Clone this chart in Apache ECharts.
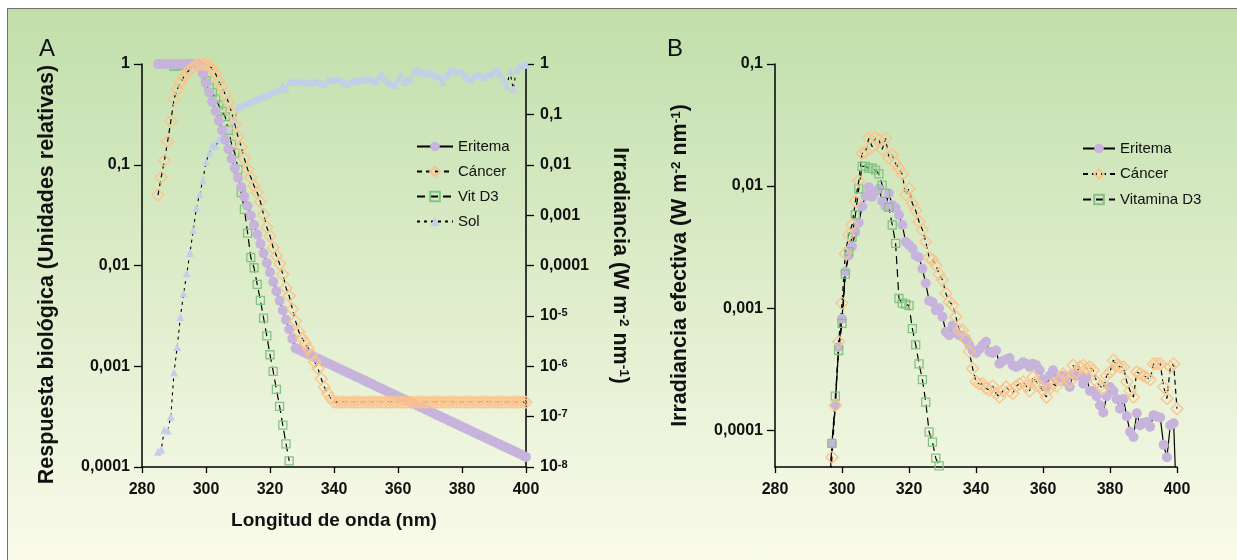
<!DOCTYPE html>
<html><head><meta charset="utf-8">
<script src="https://cdn.jsdelivr.net/npm/echarts@6/dist/echarts.min.js"></script>
<style>
html,body{margin:0;padding:0;background:#fff;width:1237px;height:560px;overflow:hidden}
#bg{position:absolute;left:7px;top:8px;width:1240px;height:560px;border-top:1px solid #707070;border-left:1px solid #707070;background:linear-gradient(to bottom,#c1dfab 0%,#deedcb 50%,#fbfbec 100%)}
#chart{position:absolute;left:0;top:0;width:1237px;height:560px}
</style></head><body>
<div id="bg"></div><div id="chart"></div>
<script>
// ---------- DATA ----------
const X_TICKS = [280, 300, 320, 340, 360, 380, 400];
const Y_LEFT_LABELS = ['0,0001', '0,001', '0,01', '0,1', '1'];            // 1e-4 .. 1
const Y_RIGHT_LABELS = ['{b|10}{s|-8}', '{b|10}{s|-7}', '{b|10}{s|-6}', '{b|10}{s|-5}', '0,0001', '0,001', '0,01', '0,1', '1']; // 1e-8 .. 1
const Y_B_LABELS = ['0,0001', '0,001', '0,01', '0,1'];                     // 1e-4 .. 1e-1

const WL_A = [285,286,287,288,289,290,291,292,293,294,295,296,297,298,299,300,301,302,303,304,
305,306,307,308,309,310,311,312,313,314,315,316,317,318,319,320,321,322,323,324,
325,326,327,328,329,330,331,332,333,334,335,336,337,338,339,340,341,342,343,344,
345,346,347,348,349,350,351,352,353,354,355,356,357,358,359,360,361,362,363,364,
365,366,367,368,369,370,371,372,373,374,375,376,377,378,379,380,381,382,383,384,
385,386,387,388,389,390,391,392,393,394,395,396,397,398,399,400];

const ERITEMA_A = [1,1,1,1,1,1,1,1,1,1,1,1,1,1,
0.805,0.649,0.522,0.421,0.339,0.273,0.220,0.177,0.143,0.115,
0.0925,0.0745,0.0600,0.0483,0.0389,0.0313,0.0252,0.0203,0.0164,0.0132,
0.0106,0.00855,0.00689,0.00555,0.00447,0.00360,0.00290,0.00233,0.00188,0.00151,
0.00146,0.00141,0.00136,0.00132,0.00127,0.00123,0.00119,0.00115,0.00111,0.00107,
0.00104,0.00100,0.000966,0.000933,0.000902,0.000871,0.000841,0.000813,0.000785,0.000759,
0.000733,0.000708,0.000684,0.000661,0.000638,0.000617,0.000596,0.000575,0.000556,0.000537,
0.000519,0.000501,0.000484,0.000468,0.000452,0.000437,0.000422,0.000407,0.000394,0.000380,
0.000367,0.000355,0.000343,0.000331,0.000320,0.000309,0.000299,0.000288,0.000279,0.000269,
0.000260,0.000251,0.000243,0.000234,0.000226,0.000219,0.000211,0.000204,0.000197,0.000191,
0.000184,0.000178,0.000172,0.000166,0.000160,0.000155,0.000150,0.000145,0.000140,0.000135,
0.000130,0.000126];

const CANCER_A = [0.05,0.075,0.11,0.17,0.27,0.45,0.56,0.65,0.74,0.82,0.88,0.93,0.96,1.0,
1.0,0.99,0.96,0.9,0.8,0.67,0.59,0.5,0.42,0.33,
0.25,0.19,0.15,0.115,0.09,0.075,0.062,0.053,0.043,0.032,
0.024,0.0196,0.015,0.0125,0.0104,0.0082,0.006,0.005,0.0037,0.0028,
0.0022,0.0019,0.0017,0.0015,0.0013,0.0011,0.00095,0.00075,0.00062,0.00054,
0.00048,
0.00044,0.00044,0.00044,0.00044,0.00044,0.00044,0.00044,0.00044,0.00044,0.00044,
0.00044,0.00044,0.00044,0.00044,0.00044,0.00044,0.00044,0.00044,0.00044,0.00044,
0.00044,0.00044,0.00044,0.00044,0.00044,0.00044,0.00044,0.00044,0.00044,0.00044,
0.00044,0.00044,0.00044,0.00044,0.00044,0.00044,0.00044,0.00044,0.00044,0.00044,
0.00044,0.00044,0.00044,0.00044,0.00044,0.00044,0.00044,0.00044,0.00044,0.00044,
0.00044,0.00044,0.00044,0.00044,0.00044,0.00044,0.00044,0.00044,0.00044,0.00044,
0.00044];

const VITD_A_WL = [290,291,292,293,294,295,296,297,298,299,300,301,302,303,304,305,306,307,308,309,
310,311,312,313,314,315,316,317,318,319,320,321,322,323,324,325,326];
const VITD_A = [0.95,0.96,0.97,0.98,0.99,1.0,1.0,1.0,0.95,0.85,
0.68,0.58,0.52,0.45,0.39,0.34,0.30,0.22,0.16,0.13,
0.09,0.053,0.036,0.021,0.012,0.0095,0.0065,0.0045,0.0030,0.0020,
0.0013,0.00089,0.00059,0.00040,0.00026,0.00017,0.000115];

const SOL_A = [2.0e-8,2.2e-8,5.5e-8,5.3e-8,1.0e-7,7.5e-7,2.4e-6,9.5e-6,2.8e-5,7.0e-5,
1.8e-4,5.0e-4,1.4e-3,2.6e-3,4.9e-3,0.0114,0.017,0.0245,0.023,0.032,
0.038,0.045,0.053,0.065,0.083,0.14,0.15,0.165,0.17,0.18,
0.19,0.21,0.22,0.23,0.24,0.26,0.28,0.30,0.31,0.38,
0.33,0.44,0.44,0.45,0.46,0.44,0.45,0.43,0.44,0.45,
0.46,0.42,0.40,0.47,0.51,0.49,0.50,0.49,0.44,0.40,
0.45,0.47,0.47,0.50,0.49,0.50,0.51,0.49,0.46,0.56,
0.62,0.50,0.44,0.40,0.38,0.50,0.62,0.44,0.48,0.52,
0.71,0.78,0.69,0.66,0.68,0.69,0.63,0.58,0.56,0.44,
0.60,0.71,0.78,0.74,0.69,0.69,0.60,0.52,0.49,0.60,
0.62,0.59,0.56,0.62,0.63,0.71,0.78,0.63,0.49,0.36,
0.71,0.32,0.76,0.89,0.95,0.98];

const WL_B = [296,297,298,299,300,301,302,303,304,305,306,307,308,309,310,311,312,313,314,315,
316,317,318,319,320,321,322,323,324,325,326,327,328,329,330,331,332,333,334,335,
336,337,338,339,340,341,342,343,344,345,346,347,348,349,350,351,352,353,354,355,
356,357,358,359,360,361,362,363,364,365,366,367,368,369,370,371,372,373,374,375,
376,377,378,379,380,381,382,383,384,385,386,387,388,389,390,391,392,393,394,395,
396,397,398,399,400];

const ERITEMA_B = [2.5e-5,7.8e-5,1.6e-4,4.8e-4,8.2e-4,0.0020,0.0027,0.0032,0.0042,0.0050,
0.0068,0.0083,0.0098,0.0082,0.0090,0.0095,0.0075,0.0068,0.0087,0.0070,
0.0066,0.0058,0.0048,0.0035,0.0033,0.0031,0.0027,0.0026,0.0021,0.0016,
0.00115,0.00112,0.00096,0.0010,0.00085,0.00064,0.00060,0.00072,0.00063,0.00060,
0.00058,0.00056,0.00050,0.00045,0.00043,0.00046,0.00050,0.00053,0.00044,0.00043,
0.00045,0.00035,0.00037,0.00038,0.00039,0.00034,0.00033,0.00034,0.00036,0.00035,
0.00033,0.00035,0.00034,0.00031,0.00026,0.000226,0.00028,0.00031,0.00026,0.00027,
0.00028,0.00025,0.000226,0.00029,0.00028,0.00028,0.00024,0.00027,0.00021,0.00021,
0.00019,0.00016,0.00014,0.00019,0.000226,0.00021,0.00018,0.00015,0.00018,0.00013,
9.7e-5,8.8e-5,1.38e-4,1.1e-4,1.15e-4,1.17e-4,1.07e-4,1.33e-4,1.29e-4,1.27e-4,
7.6e-5,6.0e-5,1.1e-4,1.14e-4,2e-5];

const CANCER_B = [2e-5,6e-5,1.6e-4,5.3e-4,0.0011,0.0028,0.0040,0.0048,0.0075,0.011,
0.0185,0.019,0.0246,0.021,0.025,0.024,0.020,0.0246,0.017,0.018,
0.0153,0.014,0.0125,0.0085,0.0095,0.0072,0.0063,0.0051,0.0044,0.0035,
0.0026,0.0025,0.00225,0.0019,0.0017,0.00132,0.00113,0.00106,0.00085,0.00066,
0.00066,0.00055,0.00044,0.00032,0.00025,0.00024,0.00024,0.00022,0.000213,0.00023,
0.0002,0.000187,0.00021,0.000226,0.00021,0.0002,0.00023,0.00024,0.000249,0.00023,
0.00021,0.000273,0.00025,0.00023,0.00021,0.000187,0.00022,0.00024,0.00023,0.00026,
0.00029,0.00027,0.00025,0.00034,0.0003,0.00033,0.00034,0.00032,0.00033,0.00031,
0.00025,0.00023,0.00022,0.00028,0.0003,0.000375,0.00034,0.00033,0.00033,0.00025,
0.00021,0.000187,0.0003,0.00029,0.00028,0.00027,0.00026,0.00035,0.00035,0.00035,
0.000226,0.000182,0.00033,0.00035,0.00015];

const VITD_B_WL = [296,297,298,299,300,301,302,303,304,305,306,307,308,309,310,311,312,313,314,315,
316,317,318,319,320,321,322,323,324,325,326,327,328,329];
const VITD_B = [2e-5,7.8e-5,1.9e-4,4.5e-4,7.5e-4,0.0019,0.0029,0.0038,0.0058,0.0095,
0.0145,0.0145,0.014,0.014,0.0135,0.0126,0.0102,0.0087,0.0067,0.0048,
0.0034,0.0012,0.0011,0.00108,0.00105,0.00068,0.0005,0.00035,0.00026,0.00017,
9.7e-5,8e-5,5.9e-5,5.1e-5];

// ---------- CHART ----------
const FONT = '"Liberation Sans", Arial, Helvetica, sans-serif';
const INK = '#111';
const zip = (xs, ys) => xs.map((x, i) => [x, ys[i]]);
const axisLine = { show: true, onZero: false, lineStyle: { color: '#000', width: 1.5 } };
const tickStyle = { color: '#000', width: 1.3 };
const tickLabel = { fontSize: 16, fontWeight: 'bold', color: INK, fontFamily: FONT };
const titleStyle = { fontSize: 19, fontWeight: 'bold', color: INK, fontFamily: FONT };
const vTitleStyle = { fontSize: 21.5, fontWeight: 'bold', color: INK, fontFamily: FONT, padding: [0, 18, 0, 0] };

const STY = {
  eritema: { symbol: 'circle', symbolSize: 10, itemStyle: { color: '#c6b4dd' }, lineStyle: { color: '#000', width: 1.2, type: 'solid' } },
  cancer: { symbol: 'diamond', symbolSize: 12, itemStyle: { color: 'rgba(0,0,0,0)', borderColor: '#fcc28a', borderWidth: 1.3 }, lineStyle: { color: '#000', width: 1.2, type: [5, 4] } },
  vitd: { symbol: 'rect', symbolSize: 8, itemStyle: { color: 'rgba(0,0,0,0)', borderColor: '#82c482', borderWidth: 1.3 }, lineStyle: { color: '#000', width: 1.2, type: [8, 5] } },
  sol: { symbol: 'triangle', symbolSize: 8, itemStyle: { color: '#c3cfe9' }, lineStyle: { color: '#000', width: 1.1, type: [3, 4] } }
};

function mk(name, x, y, data, sty) {
  return Object.assign({
    type: 'line', name: name, xAxisIndex: x, yAxisIndex: y, data: data,
    showAllSymbol: true, animation: false, emphasis: { disabled: true }, silent: true, z: 2
  }, sty);
}

function xAxisCfg(grid, withName) {
  return {
    type: 'value', gridIndex: grid, min: 280, max: 400, interval: 20,
    name: withName ? 'Longitud de onda (nm)' : '', nameLocation: 'middle', nameGap: 44,
    nameTextStyle: titleStyle,
    axisLine: axisLine, axisTick: { show: true, length: 6, lineStyle: tickStyle },
    axisLabel: Object.assign({ margin: 15, formatter: v => (X_TICKS.indexOf(v) >= 0 ? String(v) : '') }, tickLabel),
    splitLine: { show: false }
  };
}

const supRich = {
  b: { fontSize: 16, fontWeight: 'bold', color: INK, fontFamily: FONT },
  s: { fontSize: 11, fontWeight: 'bold', color: INK, fontFamily: FONT, verticalAlign: 'top' }
};
const nameRich = {
  t: { fontSize: 21.5, fontWeight: 'bold', color: INK, fontFamily: FONT },
  s: { fontSize: 13.5, fontWeight: 'bold', color: INK, fontFamily: FONT, verticalAlign: 'top' }
};

const option = {
  animation: false,
  textStyle: { fontFamily: FONT },
  graphic: [
    { type: 'text', left: 39, top: 37, style: { text: 'A', font: '24px ' + FONT, fill: INK } },
    { type: 'text', left: 667, top: 37, style: { text: 'B', font: '24px ' + FONT, fill: INK } }
  ],
  grid: [
    { left: 142, top: 64, width: 384, height: 403, outerBoundsMode: 'none' },
    { left: 775, top: 64, width: 402, height: 403, outerBoundsMode: 'none' }
  ],
  legend: [
    {
      orient: 'vertical', left: 416, top: 139, padding: 0, itemWidth: 36, itemHeight: 12, itemGap: 10,
      selectedMode: false, data: ['Eritema', 'Cáncer', 'Vit D3', 'Sol'],
      textStyle: { fontSize: 15, color: INK, fontFamily: FONT }
    },
    {
      orient: 'vertical', left: 1082, top: 141, padding: 0, itemWidth: 32, itemHeight: 12, itemGap: 10.5,
      selectedMode: false, data: ['Eritema', 'Cáncer', 'Vitamina D3'],
      textStyle: { fontSize: 15, color: INK, fontFamily: FONT }
    }
  ],
  xAxis: [xAxisCfg(0, true), xAxisCfg(1, false)],
  yAxis: [
    {
      type: 'log', logBase: 10, gridIndex: 0, min: 0.0001, max: 1, splitNumber: 4, position: 'left',
      name: 'Respuesta biológica (Unidades relativas)', nameLocation: 'middle', nameGap: 84,
      nameTextStyle: vTitleStyle,
      axisLine: axisLine, axisTick: { show: true, length: 8, lineStyle: tickStyle },
      axisLabel: Object.assign({ margin: 12, formatter: v => Y_LEFT_LABELS[Math.round(Math.log10(v)) + 4] || '' }, tickLabel),
      splitLine: { show: false }, minorTick: { show: false }
    },
    {
      type: 'log', logBase: 10, gridIndex: 0, min: 1e-8, max: 1, splitNumber: 8, position: 'right',
      name: '{t|Irradiancia (W m}{s|-2}{t| nm}{s|-1}{t|)}', nameLocation: 'middle', nameGap: 83, nameRotate: -90,
      nameTextStyle: { rich: nameRich },
      axisLine: axisLine, axisTick: { show: true, length: 8, lineStyle: tickStyle },
      axisLabel: Object.assign({ margin: 14, rich: supRich, formatter: v => Y_RIGHT_LABELS[Math.round(Math.log10(v)) + 8] || '' }, tickLabel),
      splitLine: { show: false }
    },
    {
      type: 'log', logBase: 10, gridIndex: 1, min: 0.00005, max: 0.1, splitNumber: 3, position: 'left',
      name: '{t|Irradiancia efectiva (W m}{s|-2}{t| nm}{s|-1}{t|)}', nameLocation: 'middle', nameGap: 84,
      nameTextStyle: { rich: nameRich },
      axisLine: axisLine,
      axisTick: { show: true, length: 8, lineStyle: tickStyle, customValues: [0.0001, 0.001, 0.01, 0.1] },
      axisLabel: Object.assign({ margin: 12, customValues: [0.0001, 0.001, 0.01, 0.1], formatter: v => Y_B_LABELS[Math.round(Math.log10(v)) + 4] || '' }, tickLabel),
      splitLine: { show: false }
    }
  ],
  series: [
    mk('Sol', 0, 1, zip(WL_A, SOL_A), STY.sol),
    mk('Vit D3', 0, 0, zip(VITD_A_WL, VITD_A), STY.vitd),
    mk('Eritema', 0, 0, zip(WL_A, ERITEMA_A), STY.eritema),
    mk('Cáncer', 0, 0, zip(WL_A, CANCER_A), STY.cancer),
    mk('Eritema', 1, 2, zip(WL_B, ERITEMA_B), STY.eritema),
    mk('Vitamina D3', 1, 2, zip(VITD_B_WL, VITD_B), STY.vitd),
    mk('Cáncer', 1, 2, zip(WL_B, CANCER_B), STY.cancer)
  ]
};

const chart = echarts.init(document.getElementById('chart'), null, { renderer: 'canvas' });
chart.setOption(option);
</script></body></html>
